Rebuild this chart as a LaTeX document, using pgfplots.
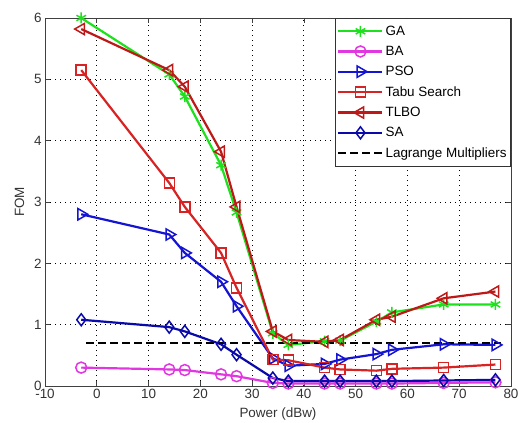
\documentclass[border=0pt]{standalone}
\usepackage{fontspec}
\setmainfont{Liberation Sans}
\usepackage{pgfplots}
\pgfplotsset{compat=1.18}

\definecolor{cga}{RGB}{30,225,30}
\definecolor{cba}{RGB}{225,55,225}
\definecolor{cpso}{RGB}{20,20,210}
\definecolor{ctabu}{RGB}{215,35,35}
\definecolor{ctlbo}{RGB}{190,25,25}
\definecolor{csa}{RGB}{10,10,170}

\pgfplotsset{
    ser/.style={
        line width=2.2bp,
        mark options={solid, line width=1.5bp},
        legend image code/.code={
            \draw[mark repeat=2, mark phase=2] plot coordinates {(0bp,0bp) (22bp,0bp) (44bp,0bp)};
        },
    },
}

\pgfplotstableread{
x    ga    ba    pso   tabu  tlbo  sa
-3   6.00  0.30  2.80  5.15  5.82  1.08
14   5.08  0.27  2.47  3.31  5.15  0.96
17   4.72  0.26  2.17  2.92  4.88  0.89
24   3.60  0.19  1.70  2.17  3.82  0.68
27   2.83  0.16  1.30  1.60  2.92  0.51
34   0.86  0.05  0.45  0.43  0.89  0.13
37   0.67  0.04  0.33  0.42  0.75  0.08
44   0.73  0.04  0.36  0.30  0.72  0.08
47   0.74  0.04  0.43  0.27  0.75  0.08
54   1.05  0.04  0.52  0.25  1.08  0.08
57   1.20  0.04  0.59  0.28  1.13  0.08
67   1.33  0.05  0.68  0.30  1.43  0.09
77   1.33  0.06  0.67  0.35  1.54  0.10
}\fom

\begin{document}
\begin{tikzpicture}
\begin{axis}[
    width=466bp, height=368bp,
    scale only axis,
    xmin=-10, xmax=80, ymin=0, ymax=6,
    xtick distance=10, ytick distance=1,
    tick align=inside,
    major tick length=5bp,
    grid=major,
    grid style={black, dash pattern=on 1bp off 4bp, line width=0.9bp},
    axis line style={black!75, line width=0.7pt},
    tick style={black!75, line width=0.7pt},
    ticklabel style={font=\fontsize{13.5}{15}\selectfont, text=black!80},
    /pgf/number format/assume math mode=true,
    xlabel={Power (dBw)},
    ylabel={FOM},
    label style={font=\fontsize{13.5}{15}\selectfont, text=black!80},
    xlabel style={yshift=-2bp},
    ylabel style={yshift=3bp},
    legend cell align=left,
    legend style={
        at={(1,1)}, anchor=north east,
        font=\fontsize{13.5}{16}\selectfont,
        draw=black!80, line width=0.7pt,
        inner xsep=2pt, inner ysep=5.5pt,
        row sep=5.4bp,
    },
]
\addplot[ser, color=cga, mark=asterisk, mark size=5.5bp] table[x=x, y=ga] {\fom};
\addlegendentry{GA}
\addplot[ser, color=cba, mark=o, mark size=5.5bp] table[x=x, y=ba] {\fom};
\addlegendentry{BA}
\addplot[ser, color=cpso, mark=triangle, mark size=6.5bp, mark options={solid, line width=1.5bp, rotate=-90}] table[x=x, y=pso] {\fom};
\addlegendentry{PSO}
\addplot[ser, color=ctabu, mark=square, mark size=5bp] table[x=x, y=tabu] {\fom};
\addlegendentry{Tabu Search}
\addplot[ser, color=ctlbo, mark=triangle, mark size=6.5bp, mark options={solid, line width=1.5bp, rotate=90}] table[x=x, y=tlbo] {\fom};
\addlegendentry{TLBO}
\addplot[ser, color=csa, mark=diamond, mark size=6bp] table[x=x, y=sa] {\fom};
\addlegendentry{SA}
\addplot[ser, black, dash pattern=on 8bp off 4bp] coordinates {(-2,0.7) (78,0.7)};
\addlegendentry{Lagrange Multipliers}
\end{axis}
\pgfresetboundingbox
\useasboundingbox ([shift={(-45bp,-37bp)}]current axis.south west) rectangle ([shift={(8bp,18bp)}]current axis.north east);
\end{tikzpicture}
\end{document}
